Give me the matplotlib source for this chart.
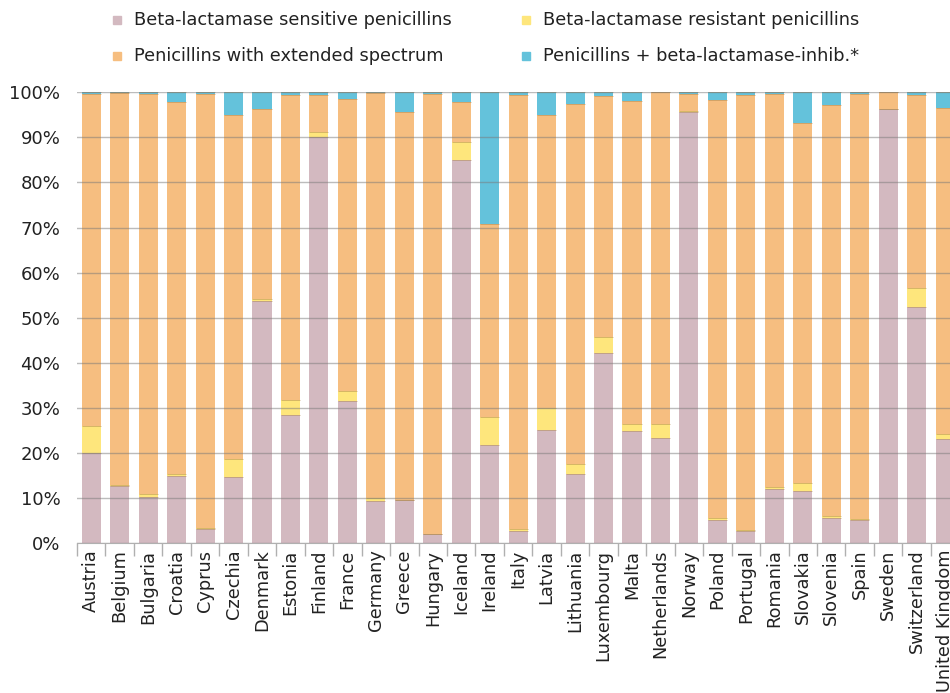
import matplotlib
matplotlib.use("Agg")
import matplotlib.pyplot as plt
from matplotlib.patches import Rectangle
import numpy as np

# data (% of penicillin use, per country)
countries = ["Austria", "Belgium", "Bulgaria", "Croatia", "Cyprus", "Czechia",
             "Denmark", "Estonia", "Finland", "France", "Germany", "Greece",
             "Hungary", "Iceland", "Ireland", "Italy", "Latvia", "Lithuania",
             "Luxembourg", "Malta", "Netherlands", "Norway", "Poland", "Portugal",
             "Romania", "Slovakia", "Slovenia", "Spain", "Sweden", "Switzerland",
             "United Kingdom"]
sensitive = [20.1, 12.7, 10.3, 14.9, 3.2, 14.8, 53.8, 28.5, 90.1, 31.5, 9.3, 9.5,
             2.1, 84.9, 21.7, 2.7, 25.1, 15.4, 42.3, 24.9, 23.4, 95.7, 5.2, 2.7,
             12.1, 11.6, 5.5, 5.2, 96.2, 52.4, 23.1]
resistant = [5.8, 0.2, 0.6, 0.5, 0.1, 4.0, 0.3, 3.3, 1.0, 2.2, 0.7, 0.1,
             0.0, 4.1, 6.3, 0.5, 4.9, 2.1, 3.5, 1.5, 3.1, 0.1, 0.4, 0.3,
             0.4, 1.7, 0.6, 0.1, 0.0, 4.1, 1.2]
extended = [73.7, 86.9, 88.7, 82.5, 96.3, 76.2, 42.2, 67.6, 8.4, 64.8, 89.8, 86.0,
            97.6, 8.9, 42.9, 96.1, 65.0, 79.9, 53.3, 71.6, 73.5, 3.9, 92.8, 96.3,
            87.1, 79.9, 91.0, 94.4, 3.8, 42.8, 72.2]
inhib = [0.4, 0.2, 0.4, 2.1, 0.4, 5.0, 3.7, 0.6, 0.5, 1.5, 0.2, 4.4,
         0.3, 2.1, 29.1, 0.7, 5.0, 2.6, 0.9, 2.0, 0.0, 0.3, 1.6, 0.7,
         0.4, 6.8, 2.9, 0.3, 0.0, 0.7, 3.5]

labels = ["Beta-lactamase sensitive penicillins", "Penicillins with extended spectrum",
          "Beta-lactamase resistant penicillins", "Penicillins + beta-lactamase-inhib.*"]
colors = ["#d3b9c0", "#f6be80", "#fee67c", "#64c2db"]

plt.rcParams['font.family'] = ['DejaVu Sans']
fig = plt.figure(figsize=(9.5, 6.93), dpi=100)
ax = fig.add_axes([77 / 950, 149.7 / 693, 882.3 / 950, 451 / 693])

x = np.arange(len(countries))
w = 0.67
series = [(sensitive, colors[0]), (resistant, colors[2]),
          (extended, colors[1]), (inhib, colors[3])]
bottom = np.zeros(len(countries))
for vals, c in series:
    vals = np.array(vals)
    ax.bar(x, vals, w, bottom=bottom, color=c, zorder=1)
    bottom = bottom + vals
    # thin darker edge at the top of each segment
    ax.hlines(bottom, x - w / 2, x + w / 2, colors="#b08a50", lw=0.6, alpha=0.6, zorder=1.5)

ax.set_xlim(-0.5, len(countries) - 0.5)
ax.set_ylim(0, 100)
ax.set_yticks(np.arange(0, 101, 10))
ax.set_yticklabels([f"{v}%" for v in range(0, 101, 10)], fontsize=13, color="#222222")
ax.tick_params(axis="y", length=0, pad=12)
ax.set_xticks(x)
ax.set_xticklabels(countries, rotation=90, fontsize=12.8, color="#222222")
ax.set_xticks(np.arange(len(countries) + 1) - 0.5, minor=True)
ax.tick_params(axis="x", which="major", length=0, pad=4.5)
ax.tick_params(axis="x", which="minor", length=9, color="#b0b0b0", width=1)

ax.set_axisbelow(False)
ax.yaxis.grid(True, color="#7a7a7a", alpha=0.5, lw=1)
for s in ["left", "right", "top"]:
    ax.spines[s].set_visible(False)
ax.spines["bottom"].set_color("#b0b0b0")

# legend, two rows
leg_x = [113, 522]
leg_y = [20, 56]
for i, (lab, c) in enumerate(zip(labels, colors)):
    col, row = i // 2, i % 2
    px, py = leg_x[col], leg_y[row]
    fig.add_artist(Rectangle((px / 950, (693 - py - 4) / 693), 8 / 950, 8 / 693,
                             transform=fig.transFigure, color=c))
    fig.text((px + 21) / 950, (693 - py) / 693, lab, fontsize=12.8,
             color="#222222", va="center", ha="left")

fig.savefig("out.png", dpi=100)
